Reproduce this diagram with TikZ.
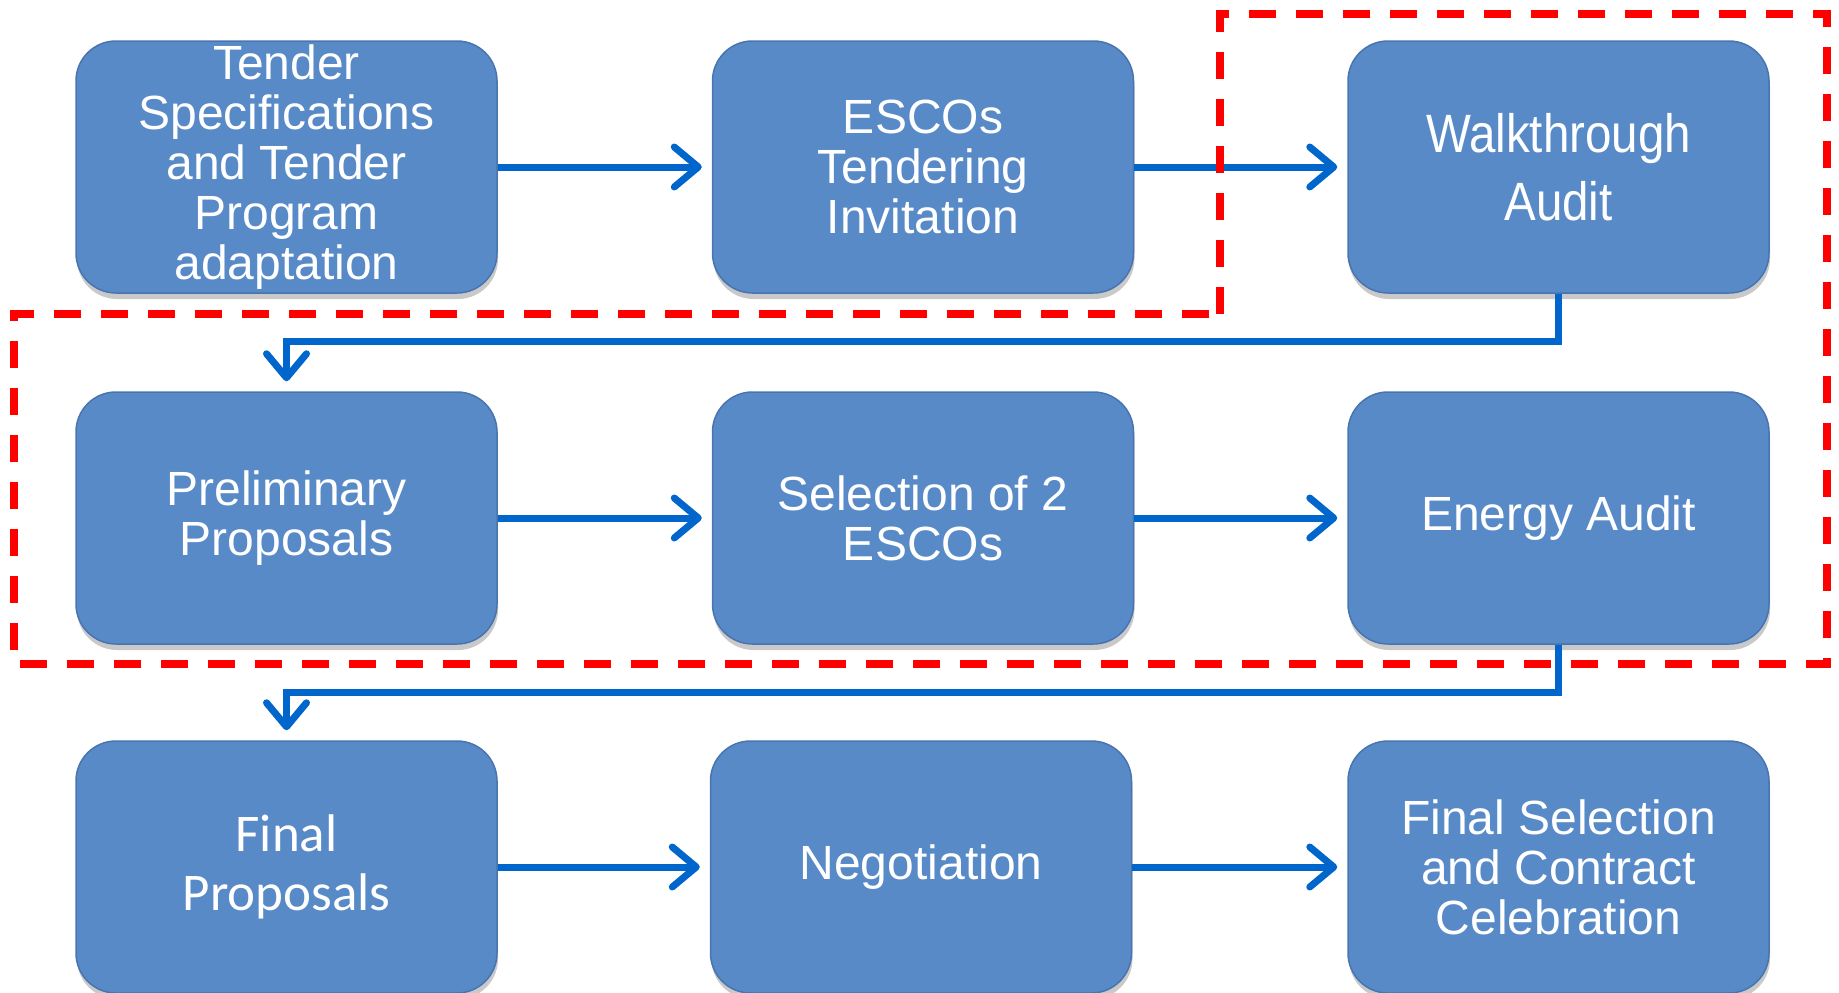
\documentclass[tikz,border=0pt]{standalone}
\usepackage{fontspec}
\setmainfont{Liberation Sans}
\newfontfamily\calibrifont{Carlito}
\newfontfamily\narrowfont[FakeStretch=0.88]{Liberation Sans}
\usetikzlibrary{arrows.meta,shadows}
\definecolor{boxblue}{RGB}{88,138,200}
\definecolor{boxedge}{RGB}{72,116,176}
\definecolor{linkblue}{RGB}{0,102,204}
\definecolor{dashred}{RGB}{255,0,0}
\begin{document}
\begin{tikzpicture}[x=1pt,y=-1pt,
  stepbox/.style={draw=boxedge, line width=1.5pt, fill=boxblue, rounded corners=40pt,
    minimum width=421pt, minimum height=252pt, inner sep=0pt, text=white, align=center,
    font=\fontsize{48}{50}\selectfont,
    drop shadow={shadow xshift=1pt, shadow yshift=-6pt, opacity=0.3, fill=black!70}},
  link/.style={draw=linkblue, line width=7pt, -{Straight Barb[length=24pt,width=40pt,round]}, shorten >=10pt},
  region/.style={draw=dashred, line width=8pt, dash pattern=on 27pt off 20pt}
]
\useasboundingbox (0,0) rectangle (1839,993);

\node[stepbox] (t)  at (286.5,167) {Tender\\Specifications\\and Tender\\Program\\adaptation};
\node[stepbox] (e)  at (923,167)   {ESCOs\\Tendering\\Invitation};
\node[stepbox, font=\narrowfont\fontsize{54}{68}\selectfont] (w) at (1558.5,167) {Walkthrough\\Audit};

\node[stepbox] (p)  at (286.5,518) {Preliminary\\Proposals};
\node[stepbox] (s)  at (923,518)   {Selection of 2\\ESCOs};
\node[stepbox] (ea) at (1558.5,518) {Energy Audit};

\node[stepbox, font=\calibrifont\fontsize{53}{59}\selectfont] (f) at (286.5,867) {Final\\Proposals};
\node[stepbox] (n)  at (921,867)   {Negotiation};
\node[stepbox] (fs) at (1558.5,867) {Final Selection\\and Contract\\Celebration};

\draw[link] (t) -- (e);
\draw[link] (e) -- (w);
\draw[link] (w.south) -- ++(0,48) -| (p.north);
\draw[link] (p) -- (s);
\draw[link] (s) -- (ea);
\draw[link] (ea.south) -- ++(0,48) -| (f.north);
\draw[link] (f) -- (n);
\draw[link] (n) -- (fs);

\draw[region] (1220,314) -- (1220,14) -- (1827,14) -- (1827,664) -- (14,664) -- (14,314) -- cycle;
\end{tikzpicture}
\end{document}
